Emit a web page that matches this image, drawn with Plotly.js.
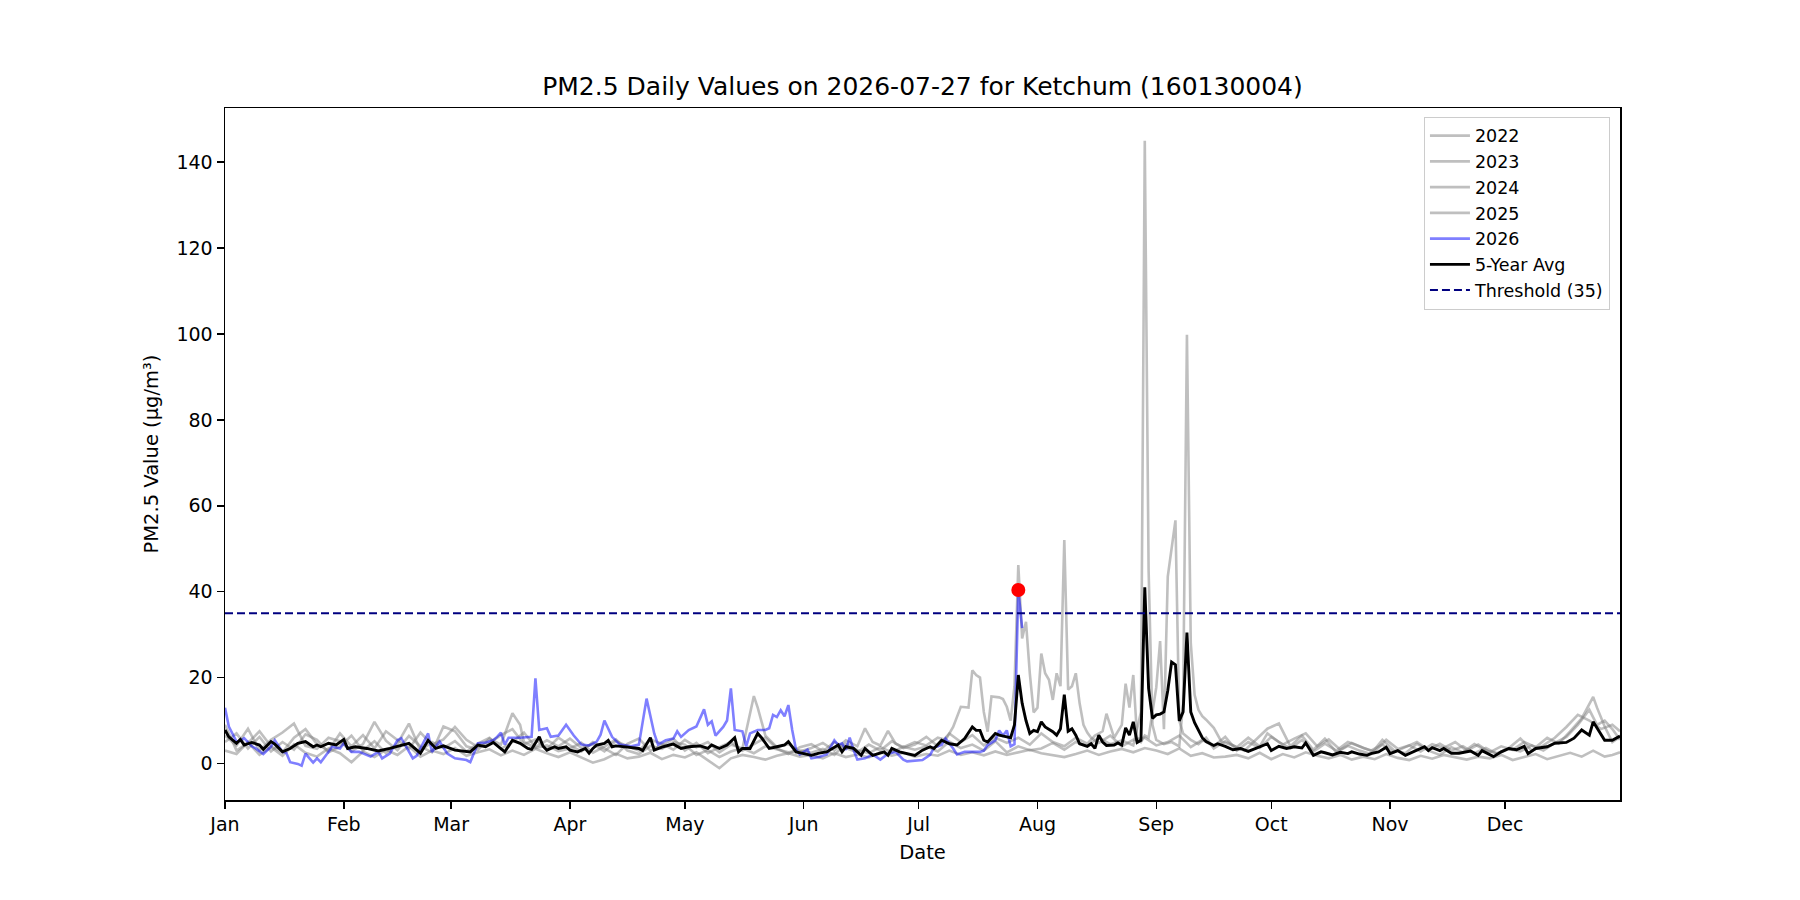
<!DOCTYPE html>
<html>
<head>
<meta charset="utf-8">
<script src="https://cdn.plot.ly/plotly-3.0.1.min.js"></script>
<style>html,body{margin:0;padding:0;background:#fff}#chart{width:1800px;height:900px}</style>
</head>
<body>
<div id="chart"></div>
<script>
// ---------- data (day offsets from 1 Jan, value in µg/m³) ----------
const YEAR = 2026;
const chartTitle = 'PM2.5 Daily Values on 2026-07-27 for Ketchum (160130004)';
const reportDate = '2026-07-27';
const threshold = 35;
const yearStart = '2026-01-01';
const yearEnd = '2026-12-31';
const monthTicks = ['2026-01-01','2026-02-01','2026-03-01','2026-04-01','2026-05-01','2026-06-01','2026-07-01','2026-08-01','2026-09-01','2026-10-01','2026-11-01','2026-12-01'];
const monthLabels = ['Jan','Feb','Mar','Apr','May','Jun','Jul','Aug','Sep','Oct','Nov','Dec'];
const yTicks = [0,20,40,60,80,100,120,140];

const series2022 = [[0,6.5],[3,4.2],[6,8.1],[9,3.0],[12,5.5],[15,7.2],[18,9.3],[21,4.1],[24,3.4],[27,6.0],[30,5.2],[33,2.8],[36,4.5],[39,9.7],[42,5.3],[45,3.1],[48,6.4],[51,4.0],[54,2.6],[57,8.6],[60,7.5],[63,4.0],[66,3.2],[69,5.8],[72,4.4],[75,11.7],[77,9.0],[78,5.0],[81,3.6],[84,4.2],[87,2.9],[90,3.5],[93,4.8],[96,2.5],[99,3.9],[102,5.6],[105,3.0],[108,2.2],[111,4.1],[114,3.4],[117,5.0],[120,4.4],[123,2.0],[126,3.1],[129,1.5],[132,2.8],[135,3.6],[138,2.4],[141,4.0],[144,3.3],[147,2.6],[150,3.0],[153,2.5],[156,3.4],[159,2.0],[162,4.6],[165,3.1],[168,2.4],[171,3.8],[174,2.6],[177,3.9],[180,3.2],[183,4.0],[186,2.8],[189,5.1],[192,3.6],[195,4.4],[198,3.0],[201,5.2],[204,2.6],[207,4.0],[210,3.1],[213,3.5],[216,4.8],[219,3.2],[222,5.0],[225,4.1],[228,6.0],[231,4.5],[234,5.4],[237,4.2],[239,12.0],[240,145.0],[241,45.0],[242,9.0],[243,5.5],[245,4.5],[247,5.0],[249,4.0],[250,14.0],[251,99.8],[252,28.0],[253,16.0],[254,12.5],[255,11.0],[256,10.2],[258,8.3],[260,5.1],[263,4.2],[266,3.0],[269,5.5],[272,8.1],[275,9.3],[278,4.0],[281,6.5],[284,3.2],[287,5.8],[290,2.6],[293,4.1],[296,3.0],[299,2.2],[302,5.5],[305,3.1],[308,2.4],[311,4.6],[314,3.0],[317,2.0],[320,3.8],[323,2.6],[326,4.5],[329,3.0],[332,2.4],[335,3.6],[338,5.8],[341,3.0],[344,4.2],[347,6.0],[350,8.5],[353,11.3],[356,10.0],[359,8.0],[362,9.0],[364,7.5]];

const series2023 = [[0,3.0],[3,2.2],[6,5.0],[9,2.0],[12,3.8],[15,1.8],[18,4.5],[21,2.5],[24,1.6],[27,3.5],[30,2.4],[33,0.3],[36,2.8],[39,1.5],[42,3.2],[45,2.0],[48,4.0],[51,1.6],[54,3.0],[57,2.2],[60,3.6],[63,1.8],[66,2.6],[69,3.3],[72,1.9],[75,3.0],[78,2.0],[81,3.4],[84,2.4],[87,1.5],[90,2.6],[93,1.4],[96,0.2],[99,1.0],[102,2.3],[105,1.2],[108,1.6],[111,2.5],[114,1.0],[117,2.0],[120,1.4],[123,2.6],[126,0.8],[129,-1.1],[132,1.2],[135,2.0],[138,1.5],[141,0.9],[144,1.8],[147,2.4],[150,1.6],[153,2.0],[156,1.2],[159,2.4],[162,1.5],[165,2.1],[168,1.4],[171,2.6],[174,1.8],[177,2.5],[180,1.6],[183,2.2],[186,1.8],[189,3.0],[192,2.0],[195,2.6],[198,1.9],[201,2.8],[204,2.0],[207,2.6],[210,3.2],[213,2.4],[216,2.0],[219,1.5],[222,2.2],[225,3.0],[228,2.0],[231,2.8],[234,3.4],[237,2.6],[240,3.6],[243,3.0],[246,2.2],[249,3.5],[252,1.8],[255,2.4],[258,1.4],[261,1.6],[264,2.0],[267,1.2],[270,2.5],[273,1.0],[276,2.2],[279,1.4],[282,2.6],[285,1.8],[288,1.2],[291,2.0],[294,0.9],[297,1.6],[300,1.0],[303,2.2],[306,1.3],[309,0.8],[312,1.8],[315,1.1],[318,2.0],[321,1.5],[324,0.9],[327,1.6],[330,1.2],[333,2.0],[336,0.8],[339,1.5],[342,2.2],[345,1.0],[348,1.8],[351,2.5],[354,1.6],[357,3.0],[360,1.6],[362,2.0],[364,2.6]];

const series2024 = [[0,5.0],[3,7.0],[6,3.5],[9,6.2],[12,2.8],[15,5.0],[18,3.2],[21,6.8],[24,5.5],[27,2.6],[30,4.0],[33,6.5],[36,3.0],[39,5.2],[42,2.4],[45,4.6],[48,9.3],[51,3.0],[54,5.0],[57,3.6],[60,5.2],[63,2.8],[66,4.6],[69,6.0],[72,3.4],[75,5.0],[78,7.2],[81,3.8],[84,5.4],[87,4.0],[90,5.8],[93,3.6],[96,4.5],[99,2.8],[102,5.2],[105,4.0],[108,3.0],[111,5.6],[114,4.6],[117,3.2],[120,5.5],[123,3.8],[126,5.0],[129,2.6],[132,4.4],[135,3.5],[138,15.7],[139,13.0],[141,6.5],[144,3.8],[147,4.5],[150,2.8],[153,3.6],[156,4.8],[159,3.0],[162,5.4],[165,4.0],[167,8.2],[169,5.0],[171,4.2],[173,7.6],[175,4.6],[177,3.8],[180,5.0],[183,4.2],[186,6.0],[188,5.5],[190,8.5],[192,13.2],[194,13.0],[195,21.7],[196,20.6],[197,20.0],[198,12.0],[199,7.4],[200,15.6],[202,15.4],[203,15.0],[204,13.2],[205,10.0],[206,18.0],[207,46.2],[208,29.1],[209,33.0],[210,21.0],[211,11.9],[212,13.0],[213,25.6],[214,21.0],[215,19.5],[216,14.8],[217,21.0],[218,18.0],[219,52.0],[220,17.2],[221,18.0],[222,21.0],[223,14.0],[224,9.0],[225,7.2],[226,6.0],[228,4.8],[231,6.5],[234,4.0],[237,5.5],[240,6.0],[243,4.2],[246,5.0],[249,6.5],[252,3.8],[255,5.5],[258,4.0],[261,6.2],[264,3.0],[267,5.0],[270,3.6],[273,6.2],[276,4.4],[279,5.8],[282,7.0],[285,4.0],[288,5.6],[291,3.2],[294,4.8],[297,3.6],[300,2.8],[303,5.5],[306,3.4],[309,4.2],[312,2.8],[315,4.5],[318,3.6],[321,5.0],[324,3.0],[327,4.4],[330,2.6],[333,4.0],[336,3.2],[339,5.0],[342,3.8],[345,6.0],[348,4.6],[351,7.5],[354,10.5],[357,15.5],[358,13.0],[360,8.6],[362,5.0],[364,6.2]];

const series2025 = [[0,9.0],[3,3.0],[6,4.8],[9,7.5],[12,4.0],[15,2.6],[18,6.0],[21,8.0],[24,4.5],[27,3.0],[30,7.0],[33,4.0],[36,6.6],[39,3.5],[42,7.5],[45,5.5],[48,3.4],[51,7.2],[54,4.4],[57,5.6],[60,8.5],[63,5.5],[66,3.8],[69,4.8],[72,6.6],[75,8.0],[78,4.5],[81,5.6],[84,3.4],[87,6.0],[90,4.2],[93,2.8],[96,5.0],[99,3.5],[102,2.0],[105,4.6],[108,5.8],[111,3.0],[114,4.2],[117,5.8],[120,3.0],[123,4.8],[126,2.4],[129,3.8],[132,5.0],[135,3.0],[138,4.6],[141,6.0],[144,3.5],[147,2.2],[150,3.8],[153,4.5],[156,2.8],[159,5.0],[162,3.6],[165,2.6],[168,4.4],[171,3.0],[174,5.2],[177,3.6],[180,4.4],[183,6.2],[186,4.0],[189,7.0],[192,5.0],[195,6.6],[198,4.2],[201,6.0],[204,4.8],[207,6.0],[210,4.4],[213,7.0],[216,5.0],[219,4.0],[222,6.0],[225,4.6],[227,6.5],[229,7.5],[230,11.6],[232,6.0],[234,9.0],[235,18.6],[236,13.0],[237,20.6],[238,6.0],[239,5.0],[240,6.5],[241,6.0],[242,12.0],[243,17.7],[244,28.5],[245,8.0],[246,43.5],[247,50.0],[248,56.6],[249,10.0],[250,7.0],[252,5.5],[254,4.5],[256,6.0],[258,3.5],[261,5.2],[264,3.8],[267,6.0],[270,4.0],[272,7.0],[275,5.0],[278,3.5],[281,5.5],[284,2.8],[287,4.6],[290,3.0],[293,5.0],[296,4.0],[299,3.0],[302,4.4],[305,2.6],[308,3.8],[311,5.0],[314,3.2],[317,4.6],[320,3.0],[323,4.0],[326,2.4],[329,3.6],[332,2.2],[335,3.4],[338,2.8],[341,4.2],[344,3.0],[347,4.8],[350,6.2],[353,9.0],[356,12.5],[358,9.0],[360,10.0],[362,8.0],[364,5.5]];

const series2026 = [[0,13.0],[1,8.6],[3,5.1],[4,5.3],[5,5.9],[7,4.0],[8,3.5],[10,2.2],[12,3.9],[13,5.4],[15,2.7],[16,2.5],[17,0.3],[19,-0.1],[20,-0.5],[21,2.3],[23,0.2],[24,1.2],[25,0.3],[27,2.7],[28,3.9],[30,3.5],[31,4.7],[33,2.7],[35,2.7],[38,1.6],[40,2.7],[41,1.2],[43,2.3],[45,5.4],[46,5.9],[49,1.2],[50,1.8],[53,7.0],[54,2.7],[56,5.1],[58,2.3],[60,1.2],[63,0.8],[64,0.3],[66,4.7],[68,4.9],[70,5.4],[71,6.2],[72,7.2],[73,4.4],[74,6.0],[77,6.0],[80,6.2],[81,19.8],[82,7.8],[84,8.2],[85,6.2],[87,6.5],[89,9.0],[91,6.5],[93,4.4],[95,4.2],[97,5.1],[98,6.7],[99,10.0],[101,6.2],[103,4.4],[106,4.0],[108,4.4],[110,15.1],[112,7.0],[113,4.4],[115,5.4],[117,5.8],[118,7.5],[119,6.2],[121,7.8],[123,8.6],[125,12.6],[126,9.0],[127,9.8],[128,6.5],[130,8.5],[131,10.0],[132,17.5],[133,7.8],[135,7.5],[136,4.0],[137,7.0],[139,7.8],[141,7.8],[142,8.2],[143,11.3],[144,10.8],[145,12.4],[146,11.0],[147,13.6],[148,7.8],[149,3.2],[150,2.1],[152,3.2],[153,1.2],[155,1.5],[157,2.1],[159,5.4],[160,4.3],[161,4.7],[162,3.2],[163,6.0],[164,3.2],[165,0.9],[167,1.2],[169,2.1],[171,0.9],[173,2.3],[175,2.7],[177,0.9],[178,0.5],[180,0.6],[182,0.8],[184,2.0],[185,3.7],[187,4.3],[188,5.8],[190,3.5],[191,2.1],[193,2.7],[195,2.7],[197,2.7],[198,3.0],[199,4.3],[201,5.4],[202,7.7],[203,6.5],[204,7.7],[205,4.0],[206,4.5],[207,40.4],[208,31.5]];

const seriesAvg = [[0,7.8],[1,6.2],[3,4.7],[4,5.6],[5,4.3],[7,4.9],[9,4.3],[10,3.3],[12,5.1],[13,4.5],[15,2.7],[17,3.5],[19,4.7],[21,5.1],[23,3.9],[24,4.3],[25,3.9],[27,4.7],[29,4.3],[31,5.6],[32,3.5],[34,3.9],[37,3.5],[40,2.9],[43,3.5],[46,4.3],[48,4.7],[51,2.4],[53,5.4],[55,3.5],[57,4.1],[60,3.1],[64,2.7],[66,4.3],[68,3.9],[70,4.9],[72,3.5],[73,2.7],[75,5.4],[77,4.7],[79,3.5],[80,3.3],[82,6.2],[83,4.0],[84,3.1],[86,3.9],[87,3.5],[89,3.9],[90,3.1],[92,2.7],[94,3.5],[95,2.4],[96,3.5],[97,4.3],[99,4.7],[100,5.4],[101,3.9],[102,4.1],[105,3.8],[108,3.5],[109,3.0],[111,6.0],[112,3.1],[114,3.8],[116,4.3],[117,4.5],[119,3.5],[121,3.9],[124,4.1],[126,3.5],[127,4.3],[129,3.5],[131,4.3],[133,6.0],[134,2.7],[135,3.5],[137,3.5],[139,7.0],[140,6.0],[142,3.5],[144,3.9],[146,4.3],[147,5.1],[149,2.7],[151,2.3],[153,1.9],[155,2.4],[157,2.7],[160,4.3],[161,2.7],[162,3.9],[164,3.5],[166,1.9],[167,3.5],[169,1.9],[172,2.7],[173,1.9],[174,3.5],[176,2.7],[178,2.3],[180,1.9],[182,3.1],[184,3.9],[185,3.5],[187,5.4],[189,4.6],[191,4.3],[193,5.8],[195,8.5],[196,7.7],[197,7.7],[198,5.4],[199,5.0],[201,7.0],[202,6.6],[204,6.2],[205,6.0],[206,9.0],[207,20.6],[208,14.0],[209,10.0],[210,7.0],[211,7.7],[212,7.4],[213,9.7],[214,8.5],[216,7.4],[217,6.6],[218,8.1],[219,16.0],[220,7.5],[221,8.1],[222,6.6],[223,4.6],[225,4.0],[226,4.6],[227,3.5],[228,6.6],[229,5.0],[230,4.2],[232,4.3],[233,4.8],[234,4.3],[235,8.3],[236,6.6],[237,9.7],[238,4.9],[239,5.4],[240,41.0],[241,17.5],[242,10.5],[243,11.3],[244,11.5],[245,12.0],[246,17.0],[247,23.6],[248,23.0],[249,9.9],[250,12.0],[251,30.5],[252,12.0],[253,9.5],[254,7.8],[255,6.0],[256,5.1],[258,4.2],[259,4.6],[261,4.0],[263,3.2],[265,3.5],[267,2.8],[269,3.5],[271,4.3],[272,4.6],[273,3.0],[275,4.0],[277,3.5],[279,3.9],[281,3.6],[282,4.8],[284,1.9],[286,2.7],[287,2.5],[289,2.0],[291,2.6],[293,2.3],[294,2.7],[296,2.2],[298,1.9],[299,2.3],[301,2.7],[303,3.8],[304,2.3],[306,3.0],[308,1.9],[310,2.7],[313,3.9],[314,3.0],[315,3.7],[317,3.0],[318,3.5],[320,2.4],[322,2.4],[325,2.9],[327,1.9],[328,3.0],[331,1.6],[333,2.7],[335,3.5],[337,3.2],[339,4.0],[340,2.3],[342,3.5],[345,3.9],[347,4.7],[350,4.9],[352,5.9],[354,7.8],[356,6.6],[357,9.7],[359,7.0],[360,5.4],[362,5.4],[364,6.4]];

// ---------- helpers ----------
function dayToDate(d) {
  const t = new Date(Date.UTC(YEAR, 0, 1) + d * 86400000);
  return t.toISOString().slice(0, 10);
}
const xs = s => s.map(p => dayToDate(p[0]));
const ys = s => s.map(p => p[1]);

const FONT = 'DejaVu Sans, Liberation Sans, Arial, sans-serif';
const grayLine = {color: 'rgba(128,128,128,0.5)', width: 2.6};

const traces = [];
[['2022', series2022], ['2023', series2023], ['2024', series2024], ['2025', series2025]].forEach(([name, s]) => {
  traces.push({type: 'scatter', mode: 'lines', name: name, x: xs(s), y: ys(s), line: grayLine, hoverinfo: 'skip'});
});
traces.push({type: 'scatter', mode: 'lines', name: '2026', x: xs(series2026), y: ys(series2026),
  line: {color: 'rgba(0,0,255,0.5)', width: 2.6}});
traces.push({type: 'scatter', mode: 'lines', name: '5-Year Avg', x: xs(seriesAvg), y: ys(seriesAvg),
  line: {color: '#000000', width: 2.9}});
traces.push({type: 'scatter', mode: 'lines', name: 'Threshold (' + threshold + ')', x: [yearStart, yearEnd], y: [threshold, threshold],
  line: {color: '#000080', width: 2, dash: '8px,4px'}});
const reportX = xs(series2026);
const reportIdx = reportX.indexOf(reportDate);
traces.push({type: 'scatter', mode: 'markers', name: 'today', showlegend: false,
  x: [reportDate], y: [series2026[reportIdx][1]], marker: {color: '#ff0000', size: 14}});

const axisCommon = {
  showline: true, linecolor: '#000', linewidth: 1.5, mirror: true,
  ticks: 'outside', ticklen: 7, tickwidth: 1.5, tickcolor: '#000',
  showgrid: false, zeroline: false,
  tickfont: {family: FONT, size: 19, color: '#000'}
};

const layout = {
  width: 1800, height: 900, autosize: false,
  paper_bgcolor: '#fff', plot_bgcolor: '#fff',
  margin: {l: 225, r: 180, t: 108, b: 100, pad: 0},
  font: {family: FONT, color: '#000'},
  title: {text: chartTitle, font: {family: FONT, size: 25, color: '#000'},
    x: 0.5, xref: 'paper', xanchor: 'center', y: 1 - 86 / 900, yref: 'container', yanchor: 'middle'},
  xaxis: Object.assign({}, axisCommon, {
    type: 'date', range: [yearStart, yearEnd], tickmode: 'array', tickvals: monthTicks, ticktext: monthLabels,
    title: {text: 'Date', font: {family: FONT, size: 19.5, color: '#000'}, standoff: 11}
  }),
  yaxis: Object.assign({}, axisCommon, {
    range: [-8.5, 152.6], tickmode: 'array', tickvals: yTicks, ticktext: yTicks.map(String),
    title: {text: 'PM2.5 Value (µg/m³)', font: {family: FONT, size: 19.5, color: '#000'}, standoff: 12}
  }),
  legend: {x: 0.9928, xanchor: 'right', y: 0.9874, yanchor: 'top',
    bgcolor: 'rgba(255,255,255,0.8)', bordercolor: '#cccccc', borderwidth: 1,
    itemwidth: 40,
    font: {family: FONT, size: 17.5, color: '#000'}},
  showlegend: true
};

Plotly.newPlot('chart', traces, layout, {staticPlot: true, displayModeBar: false});
</script>
</body>
</html>
